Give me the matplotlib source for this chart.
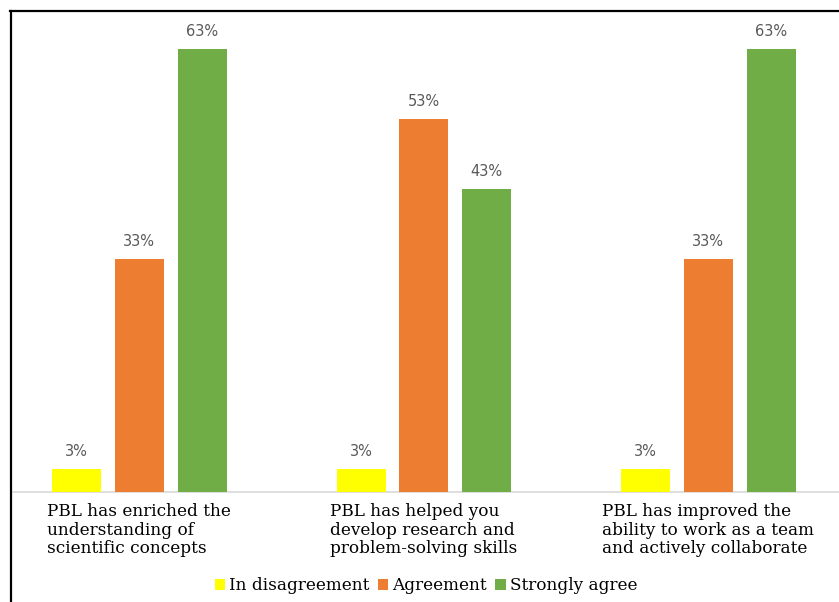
import numpy as np
import matplotlib.pyplot as plt
from matplotlib.lines import Line2D

# donnees
categories = ["PBL has enriched the\nunderstanding of\nscientific concepts",
              "PBL has helped you\ndevelop research and\nproblem-solving skills",
              "PBL has improved the\nability to work as a team\nand actively collaborate"]
series_names = ["In disagreement", "Agreement", "Strongly agree"]
disagree = [3.33, 3.33, 3.33]
agree = [33.33, 53.33, 33.33]
strongly = [63.33, 43.33, 63.33]
colors = ["#FFFF00", "#ED7D31", "#70AD47"]

fig = plt.figure(figsize=(8.39, 6.02), dpi=100)
ax = fig.add_axes([0, 110 / 602, 1, 481 / 602])

x = np.arange(len(categories))
w = 0.172
step = 0.221
series = [disagree, agree, strongly]
for k, (vals, name, c) in enumerate(zip(series, series_names, colors)):
    pos = x + (k - 1) * step
    bars = ax.bar(pos, vals, w, color=c, label=name, zorder=3)
    for b, v in zip(bars, vals):
        ax.text(b.get_x() + b.get_width() / 2, v + 1.4, "%d%%" % round(v),
                ha="center", va="bottom", fontsize=10.5, color="#595959",
                family="DejaVu Sans")

ax.set_xlim(-0.490, 2.459)
ax.set_ylim(0, 68.7)
ax.set_yticks([])
ax.set_xticks(x)
ax.set_xticklabels(categories, family="DejaVu Serif", fontsize=12.2,
                   color="black", multialignment="left", linespacing=1.12)
ax.tick_params(axis="x", length=0, pad=8)
for s in ["top", "right", "left"]:
    ax.spines[s].set_visible(False)
ax.spines["bottom"].set_color("#d9d9d9")
ax.spines["bottom"].set_linewidth(1.2)
ax.spines["bottom"].set_bounds(-0.445, 2.459)

fig.legend(loc="center", bbox_to_anchor=(426 / 839, 16 / 602), ncol=3,
           frameon=False,
           prop={"family": "DejaVu Serif", "size": 12.2},
           labelcolor="black",
           handlelength=0.6, handleheight=0.6, handletextpad=0.25,
           columnspacing=0.5)

# cadre noir (haut et gauche)
fig.add_artist(Line2D([10 / 839, 1], [591 / 602, 591 / 602], color="black",
                      lw=1.6, transform=fig.transFigure))
fig.add_artist(Line2D([11 / 839, 11 / 839], [0, 591 / 602], color="black",
                      lw=1.6, transform=fig.transFigure))

plt.savefig("out.png", dpi=100)
